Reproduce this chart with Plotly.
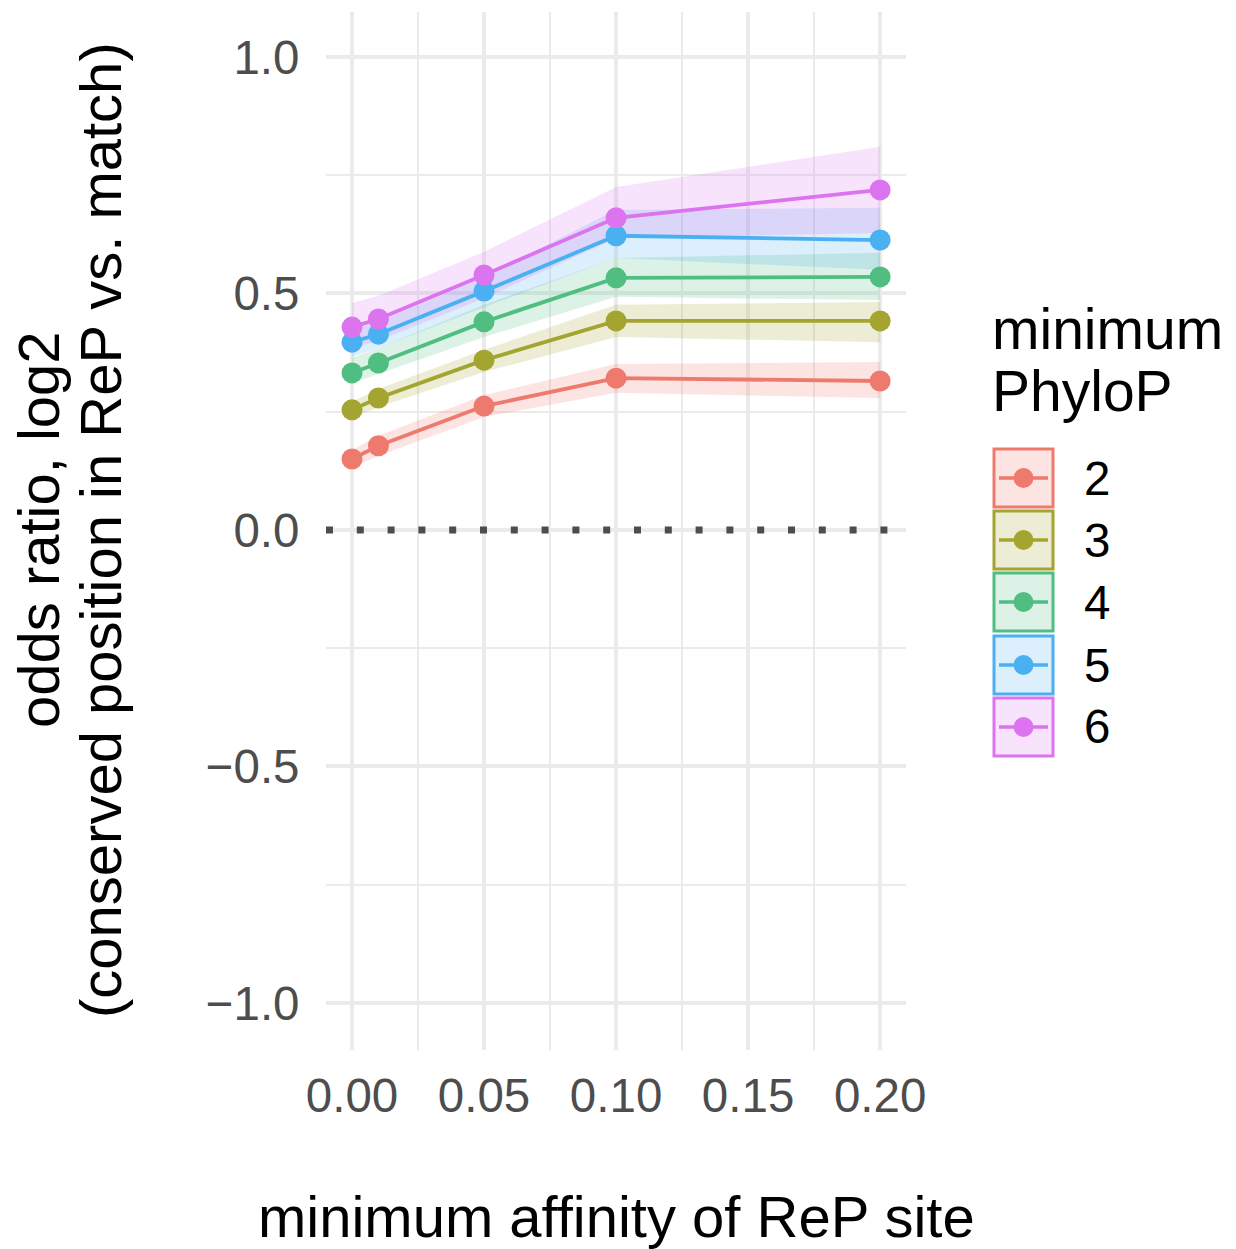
import plotly.graph_objects as go

# ---- data ----
affinity = [0.0, 0.01, 0.05, 0.10, 0.20]
phylop_levels = ["2", "3", "4", "5", "6"]
colors = ["#EE7A6E", "#A4A430", "#4FBE80", "#4AB0F2", "#DC74EF"]
fills = ["rgba(238,122,110,0.2)", "rgba(164,164,48,0.2)", "rgba(79,190,128,0.2)",
         "rgba(74,176,242,0.2)", "rgba(220,116,239,0.2)"]

odds_2 = [0.150, 0.178, 0.262, 0.321, 0.315]
low_2 = [0.131, 0.157, 0.239, 0.290, 0.279]
high_2 = [0.169, 0.199, 0.285, 0.351, 0.355]

odds_3 = [0.254, 0.279, 0.359, 0.442, 0.442]
low_3 = [0.237, 0.260, 0.334, 0.408, 0.397]
high_3 = [0.271, 0.298, 0.381, 0.476, 0.482]

odds_4 = [0.332, 0.353, 0.440, 0.533, 0.535]
low_4 = [0.311, 0.330, 0.408, 0.493, 0.486]
high_4 = [0.364, 0.385, 0.476, 0.575, 0.586]

odds_5 = [0.397, 0.414, 0.505, 0.622, 0.613]
low_5 = [0.366, 0.385, 0.471, 0.575, 0.550]
high_5 = [0.423, 0.440, 0.535, 0.677, 0.681]

odds_6 = [0.429, 0.446, 0.539, 0.660, 0.719]
low_6 = [0.384, 0.400, 0.490, 0.617, 0.628]
high_6 = [0.480, 0.495, 0.588, 0.725, 0.810]

means = [odds_2, odds_3, odds_4, odds_5, odds_6]
lows = [low_2, low_3, low_4, low_5, low_6]
highs = [high_2, high_3, high_4, high_5, high_6]

# ---- layout geometry (pixels) ----
W, H = 1236, 1249
L, R, T, B = 326, 330, 12, 199
PW, PH = W - L - R, H - T - B

def px_x(px):
    return (px - L) / PW

def px_y(py):
    return (H - B - py) / PH

FONT = "Liberation Sans, Arial, Helvetica, sans-serif"
TICK_COLOR = "#4D4D4D"
TITLE_SIZE = 58
TICK_SIZE = 47.5

fig = go.Figure()

# ribbons
for lo, hi, fc in zip(lows, highs, fills):
    fig.add_trace(go.Scatter(
        x=affinity + affinity[::-1], y=hi + lo[::-1],
        fill="toself", fillcolor=fc, mode="lines", line=dict(width=0),
        hoverinfo="skip", showlegend=False))

# lines
for m, c in zip(means, colors):
    fig.add_trace(go.Scatter(x=affinity, y=m, mode="lines",
                             line=dict(color=c, width=3.8), showlegend=False))
# points
for m, c, lev in zip(means, colors, phylop_levels):
    fig.add_trace(go.Scatter(x=affinity, y=m, mode="markers", name=lev,
                             marker=dict(color=c, size=21, line=dict(width=0)),
                             showlegend=False))

shapes = []
# dotted reference line at 0
shapes.append(dict(type="line", xref="paper", yref="y", x0=0, x1=1, y0=0, y1=0,
                   line=dict(color="#4D4D4D", width=7, dash="7px,23.8px"), layer="above"))

annotations = []
# custom legend
box_tops = [448, 510, 572, 635, 697]
box_h = 60
bx0, bx1 = 994, 1053
for top, c, fc, lev in zip(box_tops, colors, fills, phylop_levels):
    cy = top + box_h / 2
    shapes.append(dict(type="rect", xref="paper", yref="paper",
                       x0=px_x(bx0), x1=px_x(bx1), y0=px_y(top + box_h - 1), y1=px_y(top + 1),
                       fillcolor=fc, line=dict(color=c, width=3)))
    shapes.append(dict(type="line", xref="paper", yref="paper",
                       x0=px_x(999), x1=px_x(1048), y0=px_y(cy), y1=px_y(cy),
                       line=dict(color=c, width=3.5)))
    shapes.append(dict(type="circle", xref="paper", yref="paper",
                       x0=px_x(1023.5 - 10), x1=px_x(1023.5 + 10),
                       y0=px_y(cy + 10), y1=px_y(cy - 10),
                       fillcolor=c, line=dict(width=0)))
    annotations.append(dict(text=lev, xref="paper", yref="paper",
                            x=px_x(1082), y=px_y(cy), xanchor="left", yanchor="middle",
                            showarrow=False, font=dict(family=FONT, size=TICK_SIZE, color="black")))

# legend title
annotations.append(dict(text="minimum", xref="paper", yref="paper", x=px_x(990), y=px_y(329),
                        xanchor="left", yanchor="middle", showarrow=False,
                        font=dict(family=FONT, size=57, color="black")))
annotations.append(dict(text="PhyloP", xref="paper", yref="paper", x=px_x(990), y=px_y(391),
                        xanchor="left", yanchor="middle", showarrow=False,
                        font=dict(family=FONT, size=57, color="black")))

# axis titles
annotations.append(dict(text="minimum affinity of ReP site", xref="paper", yref="paper",
                        x=0.5, y=px_y(1216), xanchor="center", yanchor="middle", showarrow=False,
                        font=dict(family=FONT, size=TITLE_SIZE, color="black")))
annotations.append(dict(text="odds ratio, log2", xref="paper", yref="paper",
                        x=px_x(38), y=px_y(530), xanchor="center", yanchor="middle", showarrow=False,
                        textangle=-90, font=dict(family=FONT, size=TITLE_SIZE, color="black")))
annotations.append(dict(text="(conserved position in ReP vs. match)", xref="paper", yref="paper",
                        x=px_x(100), y=px_y(530), xanchor="center", yanchor="middle", showarrow=False,
                        textangle=-90, font=dict(family=FONT, size=TITLE_SIZE, color="black")))

fig.update_layout(
    width=W, height=H,
    margin=dict(l=L, r=R, t=T, b=B, pad=0),
    paper_bgcolor="white", plot_bgcolor="white",
    showlegend=False,
    shapes=shapes, annotations=annotations,
    font=dict(family=FONT),
)

fig.update_xaxes(
    range=[-0.00985, 0.2098], tickmode="linear", tick0=0, dtick=0.05, tickformat=".2f",
    showgrid=True, gridcolor="#EBEBEB", gridwidth=4, zeroline=False, showline=False,
    ticks="outside", ticklen=4, tickcolor="rgba(0,0,0,0)",
    tickfont=dict(family=FONT, size=TICK_SIZE, color=TICK_COLOR),
    minor=dict(showgrid=True, gridcolor="#EBEBEB", gridwidth=2, tick0=0, dtick=0.025),
)
fig.update_yaxes(
    range=[-1.0994, 1.0951], tickmode="linear", tick0=0, dtick=0.5, tickformat=".1f",
    showgrid=True, gridcolor="#EBEBEB", gridwidth=4, zeroline=False, showline=False,
    ticks="outside", ticklen=16, tickcolor="rgba(0,0,0,0)",
    tickfont=dict(family=FONT, size=TICK_SIZE, color=TICK_COLOR),
    minor=dict(showgrid=True, gridcolor="#EBEBEB", gridwidth=2, tick0=0, dtick=0.25),
)

fig.write_html("out.html")
